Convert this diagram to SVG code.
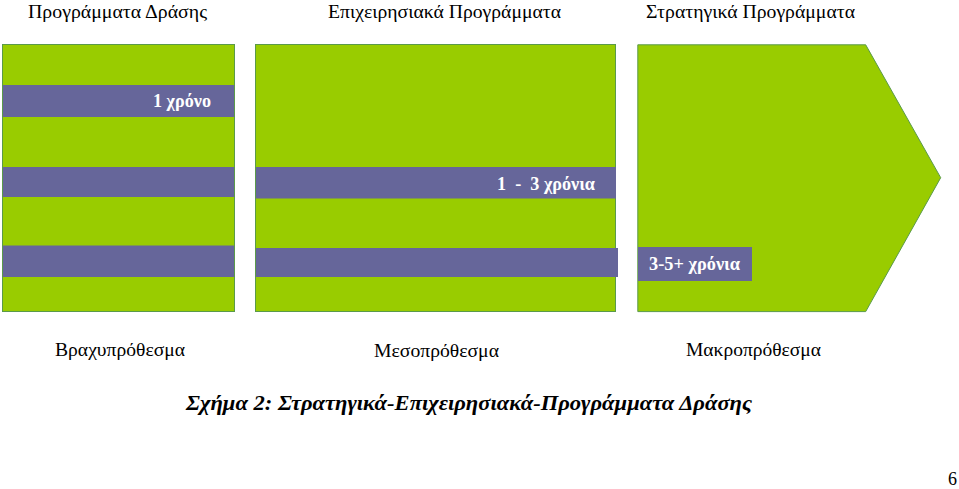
<svg xmlns="http://www.w3.org/2000/svg" width="959" height="489" viewBox="0 0 959 489">
<style>
.box{fill:#99CC00;stroke:#5A9A4A;stroke-width:1}
.band{fill:#66669A}
.bt{font-family:"Liberation Serif","Times New Roman",serif;font-weight:bold;font-size:18px;fill:#FFFFFF}
.hd{font-family:"Liberation Serif","Times New Roman",serif;font-size:18px;fill:#000000}
.cap{font-family:"Liberation Serif","Times New Roman",serif;font-size:21px;font-weight:bold;font-style:italic;fill:#000000}
</style>
<rect width="959" height="489" fill="#FFFFFF"/>
<g id="headers">
<text class="hd" x="28" y="18" textLength="179" lengthAdjust="spacingAndGlyphs">Προγράμματα Δράσης</text>
<text class="hd" x="328" y="18" textLength="233" lengthAdjust="spacingAndGlyphs">Επιχειρησιακά Προγράμματα</text>
<text class="hd" x="646" y="18" textLength="209" lengthAdjust="spacingAndGlyphs">Στρατηγικά Προγράμματα</text>
</g>
<g id="node-short">
<rect class="box" x="2.5" y="44.5" width="232" height="267"/>
<rect class="band" x="3" y="85" width="231" height="32"/>
<rect class="band" x="3" y="167" width="231" height="30"/>
<rect class="band" x="3" y="245.5" width="231" height="31.5"/>
<text class="bt" x="153" y="107" textLength="58" lengthAdjust="spacingAndGlyphs">1 χρόνο</text>
</g>
<g id="node-medium">
<rect class="box" x="255.5" y="44.5" width="360" height="267"/>
<rect class="band" x="256" y="167" width="360" height="31.5"/>
<rect class="band" x="256" y="248" width="362" height="29"/>
<text class="bt" x="497" y="190" textLength="98" lengthAdjust="spacingAndGlyphs" xml:space="preserve">1  -  3 χρόνια</text>
</g>
<g id="node-long">
<path class="box" d="M637.8,44.8 H865.7 L940.7,177.7 L865.7,311.6 H637.8 Z"/>
<rect class="band" x="638" y="247" width="114" height="34"/>
<text class="bt" x="649" y="270" textLength="91" lengthAdjust="spacingAndGlyphs">3-5+ χρόνια</text>
</g>
<g id="connectors"></g>
<g id="labels">
<text class="hd" x="55" y="356" textLength="130" lengthAdjust="spacingAndGlyphs">Βραχυπρόθεσμα</text>
<text class="hd" x="374" y="357" textLength="125" lengthAdjust="spacingAndGlyphs">Μεσοπρόθεσμα</text>
<text class="hd" x="686" y="356" textLength="135" lengthAdjust="spacingAndGlyphs">Μακροπρόθεσμα</text>
<text class="cap" x="186" y="410" textLength="566" lengthAdjust="spacingAndGlyphs">Σχήμα 2: Στρατηγικά-Επιχειρησιακά-Προγράμματα Δράσης</text>
<text class="hd" x="948" y="485">6</text>
</g>
</svg>
